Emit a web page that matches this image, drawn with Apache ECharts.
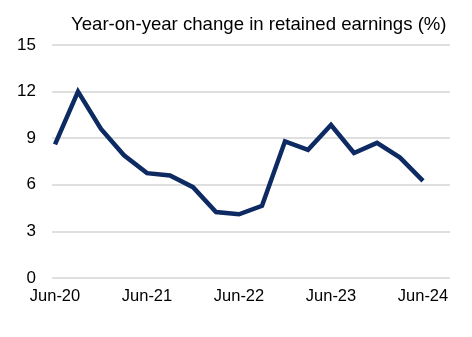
<!DOCTYPE html>
<html>
<head>
<meta charset="utf-8">
<script src="https://cdn.jsdelivr.net/npm/echarts@6/dist/echarts.min.js"></script>
<style>
  html, body { margin: 0; padding: 0; background: #ffffff; }
  #chart { width: 472px; height: 337px; }
</style>
</head>
<body>
<div id="chart"></div>
<script>
// Quarterly periods, June 2020 to June 2024
const quarters = [
  'Jun-20', 'Sep-20', 'Dec-20', 'Mar-21',
  'Jun-21', 'Sep-21', 'Dec-21', 'Mar-22',
  'Jun-22', 'Sep-22', 'Dec-22', 'Mar-23',
  'Jun-23', 'Sep-23', 'Dec-23', 'Mar-24',
  'Jun-24'
];

// Year-on-year change in retained earnings, per cent
const retainedEarningsGrowth = [
  8.6, 12.0, 9.6, 7.9,
  6.75, 6.6, 5.85, 4.25,
  4.1, 4.65, 8.8, 8.25,
  9.85, 8.05, 8.7, 7.75,
  6.25
];

// Value-axis ticks
const yTicks = { min: 0, max: 15, interval: 3 };

const FONT = 'Liberation Sans, Arial, sans-serif';

const chart = echarts.init(document.getElementById('chart'), null, { renderer: 'canvas' });

chart.setOption({
  backgroundColor: '#ffffff',
  animation: false,
  title: {
    text: 'Year-on-year change in retained earnings (%)',
    left: 66,
    top: 10,
    textStyle: { fontFamily: FONT, fontSize: 18.6, fontWeight: 'normal', color: '#000000' }
  },
  grid: [
    // full-width frame carrying the horizontal gridlines and value labels
    { left: 52, right: 22, top: 45, bottom: 59 },
    // plotting area for the series, spanning first to last quarter
    { left: 55, right: 49, top: 45, bottom: 59 }
  ],
  xAxis: [
    { gridIndex: 0, type: 'value', min: 0, max: 1, show: false },
    {
      gridIndex: 1,
      type: 'category',
      data: quarters,
      boundaryGap: false,
      axisLine: { show: false },
      axisTick: { show: false },
      axisLabel: {
        interval: 3,
        margin: 10,
        fontFamily: FONT,
        fontSize: 16.5,
        color: '#000000'
      },
      splitLine: { show: false }
    }
  ],
  yAxis: [
    {
      gridIndex: 0,
      type: 'value',
      min: yTicks.min,
      max: yTicks.max,
      interval: yTicks.interval,
      axisLine: { show: false },
      axisTick: { show: false },
      axisLabel: {
        margin: 16,
        fontFamily: FONT,
        fontSize: 17,
        color: '#000000'
      },
      splitLine: { show: true, lineStyle: { color: '#d4d4d4', width: 1.5 } }
    },
    {
      gridIndex: 1,
      type: 'value',
      min: yTicks.min,
      max: yTicks.max,
      interval: yTicks.interval,
      show: false,
      splitLine: { show: false }
    }
  ],
  series: [
    {
      type: 'line',
      xAxisIndex: 1,
      yAxisIndex: 1,
      data: retainedEarningsGrowth,
      showSymbol: false,
      symbol: 'none',
      lineStyle: { color: '#0d2a63', width: 4.5, join: 'miter' },
      z: 3
    }
  ]
});
</script>
</body>
</html>
